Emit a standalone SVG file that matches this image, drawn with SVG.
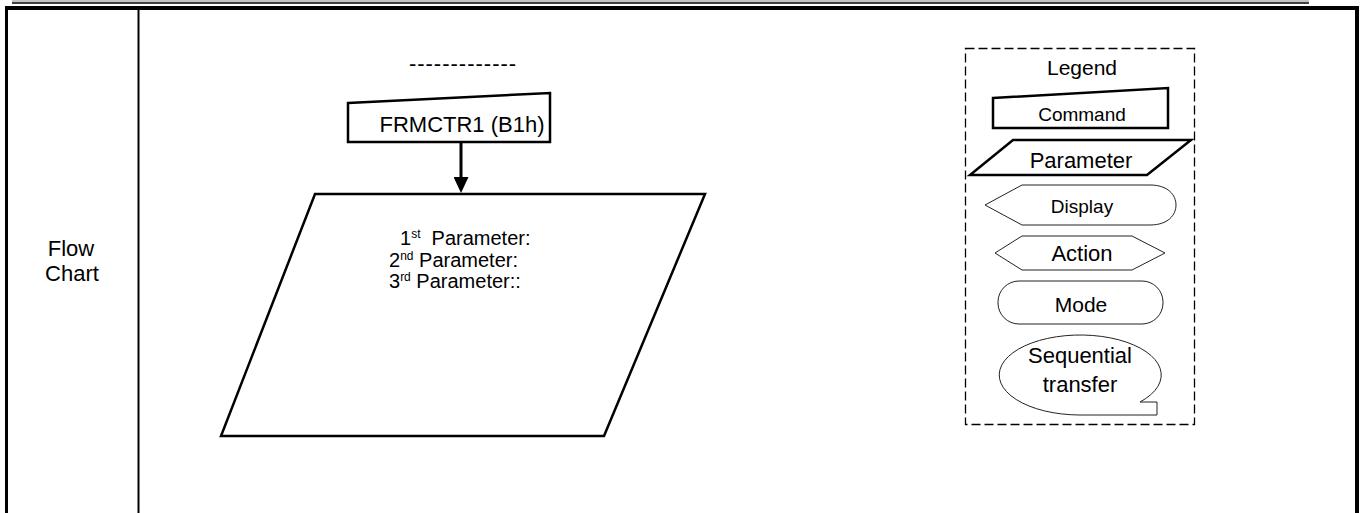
<svg xmlns="http://www.w3.org/2000/svg" width="1366" height="513" viewBox="0 0 1366 513">
<defs>
<style>
text{font-family:"Liberation Sans",Arial,sans-serif;fill:#000}
.b{fill:#fff;stroke:#000;stroke-width:2.5;stroke-linejoin:miter}
.t{fill:#fff;stroke:#222;stroke-width:1}
.c{text-anchor:middle}
</style>
<marker id="ah" markerWidth="16" markerHeight="15" refX="3" refY="7.5" orient="auto" markerUnits="userSpaceOnUse" viewBox="0 0 16 15">
<path d="M0,0 L16,7.5 L0,15 Z" fill="#000"/>
</marker>
</defs>
<g id="frame">
<line x1="12" y1="1" x2="1309" y2="1" stroke="#888" stroke-width="1"/>
<line x1="12" y1="3" x2="1309" y2="3" stroke="#000" stroke-width="1.5"/>
<line x1="5" y1="8" x2="1359" y2="8" stroke="#000" stroke-width="4"/>
<line x1="6.5" y1="6" x2="6.5" y2="513" stroke="#000" stroke-width="3"/>
<line x1="1357" y1="6" x2="1357" y2="513" stroke="#000" stroke-width="4"/>
<line x1="138.5" y1="10" x2="138.5" y2="513" stroke="#000" stroke-width="2"/>
<text class="c" x="71" y="256" font-size="22">Flow</text>
<text class="c" x="72" y="281" font-size="22">Chart</text>
</g>
<g id="dashes">
<text class="c" x="463" y="71" font-size="22" letter-spacing="1">-------------</text>
</g>
<g id="cmd">
<path class="b" d="M348,103 L550,93 L550,142 L348,142 Z"/>
<text class="c" x="462" y="132" font-size="22">FRMCTR1 (B1h)</text>
</g>
<g id="param">
<path class="b" d="M315,194 L705,194 L604,436 L221,436 Z"/>
<text x="400" y="245" font-size="20">1<tspan dy="-7" font-size="12">st</tspan><tspan dy="7">&#160; Parameter:</tspan></text>
<text x="389" y="267" font-size="20">2<tspan dy="-7" font-size="12">nd</tspan><tspan dy="7"> Parameter:</tspan></text>
<text x="389" y="288" font-size="20">3<tspan dy="-7" font-size="12">rd</tspan><tspan dy="7"> Parameter::</tspan></text>
</g>
<g id="connectors">
<line x1="461" y1="142" x2="461" y2="180" stroke="#000" stroke-width="3" marker-end="url(#ah)"/>
</g>
<g id="legend">
<rect x="965.5" y="48.5" width="229" height="376" fill="none" stroke="#000" stroke-width="1.3" stroke-dasharray="9,4"/>
<text class="c" x="1082" y="75" font-size="21">Legend</text>
<g id="lg-command">
<path class="b" d="M993,98 L1168,88 L1168,128 L993,128 Z"/>
<text class="c" x="1082" y="121" font-size="19">Command</text>
</g>
<g id="lg-parameter">
<path class="b" d="M1013,140 L1191,140 L1147,175 L970,175 Z"/>
<text class="c" x="1081" y="168" font-size="22">Parameter</text>
</g>
<g id="lg-display">
<path class="t" d="M985,205 L1022,185 L1150,185 C1168,185 1176,195 1176,205 C1176,215 1168,225 1150,225 L1022,225 Z"/>
<text class="c" x="1082" y="213" font-size="19">Display</text>
</g>
<g id="lg-action">
<path class="t" d="M995,253 L1022,236 L1132,236 L1165,253 L1132,270 L1022,270 Z"/>
<text class="c" x="1082" y="261" font-size="22">Action</text>
</g>
<g id="lg-mode">
<rect class="t" x="998" y="281" width="165" height="43" rx="21" ry="21"/>
<text class="c" x="1081" y="312" font-size="21">Mode</text>
</g>
<g id="lg-seq">
<path class="t" d="M1080,415 A81,40 0 1 1 1140,402 L1157,402 L1157,415 Z"/>
<text class="c" x="1080" y="363" font-size="22">Sequential</text>
<text class="c" x="1080" y="392" font-size="22">transfer</text>
</g>
</g>
</svg>
